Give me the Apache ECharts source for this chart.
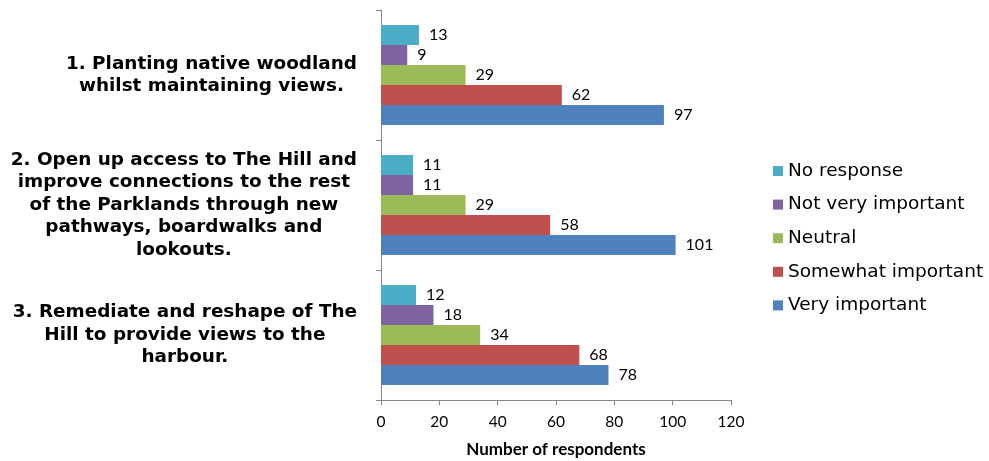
<!DOCTYPE html>
<html><head><meta charset="utf-8">
<script src="https://cdn.jsdelivr.net/npm/echarts@6/dist/echarts.min.js"></script>
<style>html,body{margin:0;padding:0;background:#fff}#c{width:989px;height:461px}</style>
</head><body><div id="c"></div>
<script>
const categories = [
  "1. Planting native woodland\nwhilst maintaining views.",
  "2. Open up access to The Hill and\nimprove connections to the rest\nof the Parklands through new\npathways, boardwalks and\nlookouts.",
  "3. Remediate and reshape of The\nHill to provide views to the\nharbour."
];
const seriesNames = ["No response", "Not very important", "Neutral", "Somewhat important", "Very important"];
const noResponse = [13, 11, 12];
const notVeryImportant = [9, 11, 18];
const neutral = [29, 29, 34];
const somewhatImportant = [62, 58, 68];
const veryImportant = [97, 101, 78];
const xMin = 0, xMax = 120, xStep = 20;
const xTitle = "Number of respondents";

const colors = ['#4BACC6', '#8064A2', '#9BBB59', '#C0504D', '#4F81BD'];
const values = [noResponse, notVeryImportant, neutral, somewhatImportant, veryImportant];

const chart = echarts.init(document.getElementById('c'), null, {renderer: 'canvas'});
chart.setOption({
  animation: false,
  backgroundColor: '#fff',
  grid: {left: 381, right: 258, top: 10, bottom: 61, containLabel: false, outerBoundsMode: 'none'},
  legend: {
    orient: 'vertical', left: 773, top: 161, padding: 0,
    icon: 'rect', itemWidth: 10, itemHeight: 10, itemGap: 13.6,
    data: seriesNames,
    textStyle: {fontFamily: 'DejaVu Sans', fontSize: 18.5, color: '#000', lineHeight: 20}
  },
  xAxis: {
    type: 'value', min: xMin, max: xMax, interval: xStep,
    axisLine: {show: true, lineStyle: {color: '#868686'}},
    axisTick: {show: true, length: 5, lineStyle: {color: '#868686'}},
    splitLine: {show: false},
    axisLabel: {fontFamily: 'Lato', fontSize: 15.5, color: '#000', margin: 14},
    name: xTitle, nameLocation: 'middle', nameGap: 41,
    nameTextStyle: {fontFamily: 'Lato', fontWeight: 'bold', fontSize: 17, color: '#000'}
  },
  yAxis: {
    type: 'category', data: categories, inverse: true,
    axisLine: {show: true, lineStyle: {color: '#868686'}},
    axisTick: {show: true, length: 5, alignWithLabel: false, lineStyle: {color: '#868686'}},
    axisLabel: {
      margin: 24, align: 'right',
      formatter: function (v) {
        return v.split('\n').map(function (l) { return '{b|' + l + '}'; }).join('\n');
      },
      rich: {
        b: {fontFamily: 'DejaVu Sans', fontWeight: 'bold', fontSize: 18.4, lineHeight: 22.5, color: '#000', align: 'center'}
      }
    }
  },
  series: seriesNames.map(function (n, i) {
    return {
      name: n, type: 'bar', data: values[i],
      barGap: '0%', barCategoryGap: '23%',
      itemStyle: {color: colors[i]},
      label: {show: true, position: 'right', distance: 10, fontFamily: 'Lato', fontSize: 16, color: '#000'}
    };
  })
});
</script></body></html>
